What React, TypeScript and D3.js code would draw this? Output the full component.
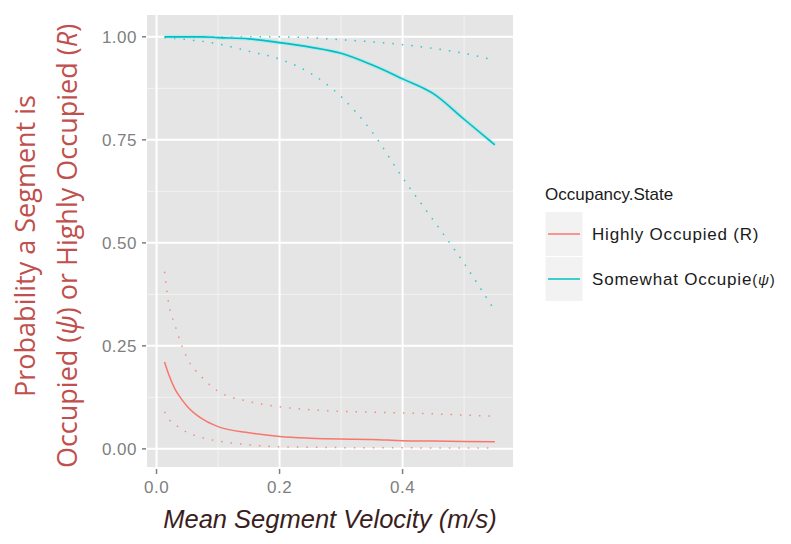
import React from 'react';
import * as d3 from 'd3';

// mean segment velocity (m/s) at which the fitted curves are drawn
const velocity = [0.013, 0.02, 0.03, 0.04, 0.05, 0.075, 0.1, 0.15, 0.2, 0.25, 0.3, 0.35, 0.4, 0.45, 0.5, 0.55];

// Somewhat Occupied (psi)
const psiMean = [1.0, 1.0, 1.0, 1.0, 1.0, 1.0, 0.998, 0.995, 0.986, 0.975, 0.96, 0.932, 0.898, 0.862, 0.8, 0.738];
const psiUpper = [1.0, 1.0, 1.0, 1.0, 1.0, 1.0, 1.0, 1.0, 1.0, 0.998, 0.993, 0.988, 0.981, 0.972, 0.96, 0.943];
const psiLower = [0.998, 0.997, 0.996, 0.995, 0.993, 0.989, 0.983, 0.965, 0.946, 0.912, 0.855, 0.77, 0.658, 0.555, 0.45, 0.335];

// Highly Occupied (R)
const rMean = [0.211, 0.18, 0.145, 0.122, 0.103, 0.072, 0.054, 0.039, 0.03, 0.026, 0.024, 0.023, 0.02, 0.019, 0.018, 0.017];
const rUpper = [0.43, 0.35, 0.3, 0.255, 0.22, 0.172, 0.14, 0.115, 0.102, 0.095, 0.091, 0.089, 0.087, 0.085, 0.082, 0.079];
const rLower = [0.09, 0.072, 0.06, 0.048, 0.04, 0.027, 0.019, 0.01, 0.005, 0.004, 0.003, 0.003, 0.003, 0.002, 0.002, 0.002];

const xTicks = [0, 0.2, 0.4];
const xMinor = [0.1, 0.3, 0.5];
const yTicks = [0, 0.25, 0.5, 0.75, 1];
const yMinor = [0.125, 0.375, 0.625, 0.875];

const RED = '#F8766D';
const CYAN = '#00BFC4';

const panel = { left: 147, right: 513, top: 15, bottom: 467 };

export default function App() {
  const x = d3.scaleLinear().domain([-0.0155, 0.5795]).range([panel.left, panel.right]);
  const y = d3.scaleLinear().domain([-0.044, 1.053]).range([panel.bottom, panel.top]);

  const line = (vals: number[]) =>
    d3
      .line<number>()
      .x((_, i) => x(velocity[i]))
      .y((d) => y(d))
      .curve(d3.curveMonotoneX)(vals) as string;

  const tickFont = 'Liberation Sans, Arial, sans-serif';

  return (
    <svg width={791} height={544} style={{ position: 'absolute', left: 0, top: 0, background: '#fff' }}>
      <rect x={panel.left} y={panel.top} width={panel.right - panel.left} height={panel.bottom - panel.top} fill="#E5E5E5" />
      {xMinor.map((v) => (
        <line key={'xm' + v} x1={x(v)} x2={x(v)} y1={panel.top} y2={panel.bottom} stroke="#F2F2F2" strokeWidth={1} />
      ))}
      {yMinor.map((v) => (
        <line key={'ym' + v} x1={panel.left} x2={panel.right} y1={y(v)} y2={y(v)} stroke="#F2F2F2" strokeWidth={1} />
      ))}
      {xTicks.map((v) => (
        <line key={'x' + v} x1={x(v)} x2={x(v)} y1={panel.top} y2={panel.bottom} stroke="#fff" strokeWidth={2} />
      ))}
      {yTicks.map((v) => (
        <line key={'y' + v} x1={panel.left} x2={panel.right} y1={y(v)} y2={y(v)} stroke="#fff" strokeWidth={2} />
      ))}

      {/* confidence bounds */}
      {[psiUpper, psiLower].map((vals, i) => (
        <path key={'pc' + i} d={line(vals)} fill="none" stroke={CYAN} strokeWidth={1.5} strokeDasharray="1.5 8" opacity={0.8} />
      ))}
      {[rUpper, rLower].map((vals, i) => (
        <path key={'rc' + i} d={line(vals)} fill="none" stroke={RED} strokeWidth={1.5} strokeDasharray="1.5 8" opacity={0.8} />
      ))}
      <path d={line(psiMean)} fill="none" stroke="#9FE8EA" strokeWidth={4} opacity={0.6} />
      <path d={line(psiMean)} fill="none" stroke={CYAN} strokeWidth={1.6} />
      <path d={line(rMean)} fill="none" stroke={RED} strokeWidth={1.5} />

      {/* axes */}
      {yTicks.map((v) => (
        <g key={'yt' + v}>
          <line x1={panel.left - 5} x2={panel.left - 1} y1={y(v)} y2={y(v)} stroke="#7F7F7F" strokeWidth={1.5} />
          <text x={panel.left - 10} y={y(v)} dy="0.36em" textAnchor="end" fontFamily={tickFont} fontSize={17} fill="#7F7F7F" letterSpacing={0.5}>
            {d3.format('.2f')(v)}
          </text>
        </g>
      ))}
      {xTicks.map((v) => (
        <g key={'xt' + v}>
          <line x1={x(v)} x2={x(v)} y1={panel.bottom + 2} y2={panel.bottom + 7} stroke="#7F7F7F" strokeWidth={1.5} />
          <text x={x(v)} y={panel.bottom + 26} textAnchor="middle" fontFamily={tickFont} fontSize={17} fill="#7F7F7F" letterSpacing={0.5}>
            {d3.format('.1f')(v)}
          </text>
        </g>
      ))}

      <text x={330} y={528} textAnchor="middle" fontFamily={tickFont} fontStyle="italic" fontSize={25.5} fill="#3a1e1e">
        Mean Segment Velocity (m/s)
      </text>

      <g transform="translate(35,246) rotate(-90)" fontFamily="Open Sans, Noto Sans, sans-serif" fontSize={27} fill="#C0504D">
        <text x={0} y={0} textAnchor="middle">Probability a Segment is</text>
        <text x={0} y={42} textAnchor="middle">
          Occupied (<tspan fontStyle="italic">ψ</tspan>) or Highly Occupied (<tspan fontStyle="italic">R</tspan>)
        </text>
      </g>

      {/* legend */}
      <text x={545} y={200} fontFamily={tickFont} fontSize={17} fill="#1a1a1a">Occupancy.State</text>
      {[
        { label: 'Highly Occupied (R)', color: RED, cy: 234 },
        { label: 'Somewhat Occupie', color: CYAN, cy: 279 },
      ].map((d, i) => (
        <g key={'lg' + i}>
          <rect x={545} y={d.cy - 22.5} width={38} height={45} fill="#F2F2F2" stroke="#fff" strokeWidth={1} />
          <line x1={548} x2={580} y1={d.cy} y2={d.cy} stroke={d.color} strokeWidth={1.5} />
          <text x={592} y={d.cy} dy="0.36em" fontFamily={tickFont} fontSize={17} fill="#1a1a1a" letterSpacing={0.8}>
            {d.label}
            {i === 1 ? (
              <tspan fontSize={15}>
                (<tspan fontStyle="italic">ψ</tspan>)
              </tspan>
            ) : null}
          </text>
        </g>
      ))}
    </svg>
  );
}
